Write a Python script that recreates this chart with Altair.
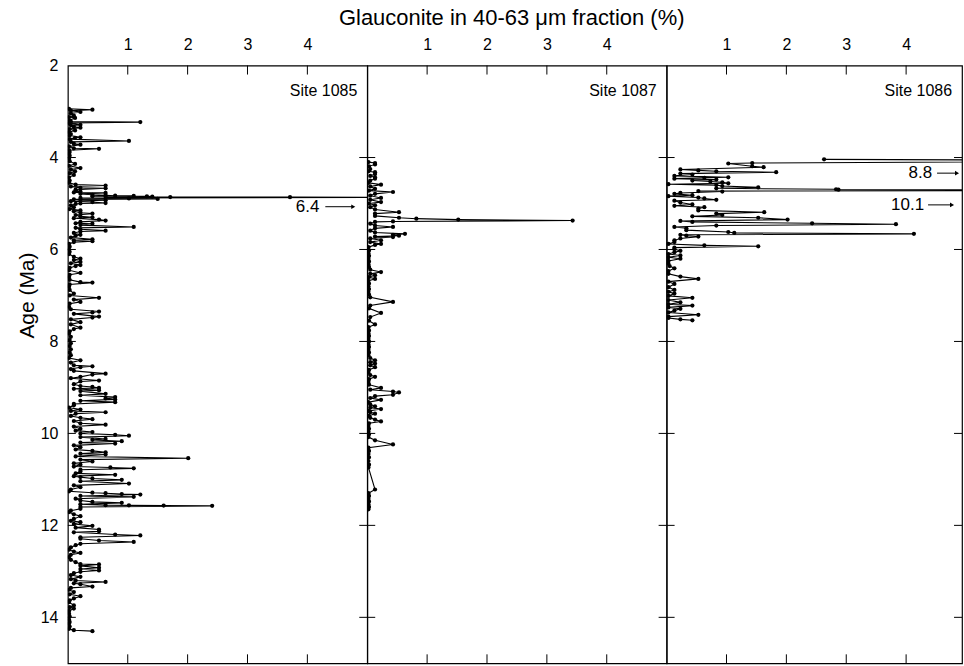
import altair as alt
import pandas as pd

FONT = "Liberation Sans"

site_names = ["Site 1085", "Site 1087", "Site 1086"]

# Site 1085: age (Ma) and glauconite (%)
age_1085 = [2.94, 2.96, 2.98, 3.01, 3.04, 3.09, 3.12, 3.14, 3.19, 3.22, 3.23, 3.25, 3.29, 3.30, 3.33, 3.35, 3.38, 3.41, 3.45, 3.49,
            3.52, 3.56, 3.57, 3.60, 3.64, 3.66, 3.70, 3.72, 3.76, 3.80, 3.81, 3.84, 3.88, 3.92, 3.96, 4.02, 4.08, 4.14, 4.18, 4.23,
            4.26, 4.30, 4.34, 4.38, 4.43, 4.50, 4.55, 4.59, 4.61, 4.63, 4.66, 4.67, 4.70, 4.72, 4.74, 4.76, 4.77, 4.79, 4.81, 4.82,
            4.83, 4.835, 4.84, 4.845, 4.85, 4.855, 4.86, 4.862, 4.866, 4.88, 4.89, 4.90, 4.91, 4.92, 4.93, 4.95, 4.97, 4.99, 5.00, 5.01,
            5.04, 5.08, 5.12, 5.15, 5.17, 5.20, 5.22, 5.25, 5.28, 5.30, 5.32, 5.35, 5.37, 5.40, 5.43, 5.44, 5.47, 5.51, 5.53, 5.56,
            5.59, 5.61, 5.64, 5.68, 5.70, 5.74, 5.78, 5.80, 5.82, 5.84, 5.88, 5.94, 6.00, 6.05, 6.10, 6.16, 6.20, 6.23, 6.27, 6.30,
            6.34, 6.36, 6.40, 6.45, 6.51, 6.55, 6.60, 6.66, 6.71, 6.72, 6.76, 6.81, 6.88, 6.96, 7.00, 7.05, 7.09, 7.14, 7.18, 7.25,
            7.30, 7.35, 7.37, 7.40, 7.46, 7.48, 7.52, 7.58, 7.63, 7.70, 7.73, 7.78, 7.83, 7.90, 7.97, 8.04, 8.10, 8.17, 8.24, 8.30,
            8.36, 8.41, 8.46, 8.52, 8.54, 8.56, 8.60, 8.64, 8.70, 8.72, 8.77, 8.80, 8.85, 8.87, 8.93, 8.97, 8.99, 9.01, 9.03, 9.06,
            9.08, 9.14, 9.17, 9.21, 9.24, 9.26, 9.29, 9.32, 9.36, 9.39, 9.44, 9.48, 9.51, 9.54, 9.57, 9.62, 9.66, 9.69, 9.73, 9.78,
            9.81, 9.85, 9.90, 9.94, 9.97, 10.00, 10.03, 10.05, 10.08, 10.12, 10.14, 10.17, 10.20, 10.22, 10.26, 10.30, 10.35, 10.38, 10.41, 10.44,
            10.46, 10.50, 10.54, 10.57, 10.61, 10.65, 10.68, 10.72, 10.74, 10.76, 10.79, 10.83, 10.87, 10.90, 10.93, 10.95, 10.98, 11.01, 11.04, 11.09,
            11.13, 11.17, 11.22, 11.26, 11.29, 11.30, 11.32, 11.33, 11.36, 11.38, 11.42, 11.46, 11.49, 11.51, 11.54, 11.56, 11.565, 11.57, 11.575, 11.60,
            11.64, 11.68, 11.71, 11.76, 11.80, 11.86, 11.90, 11.93, 11.97, 12.01, 12.05, 12.09, 12.13, 12.15, 12.20, 12.22, 12.26, 12.29, 12.33, 12.36,
            12.40, 12.43, 12.48, 12.53, 12.57, 12.60, 12.64, 12.69, 12.75, 12.80, 12.84, 12.85, 12.88, 12.92, 12.95, 12.98, 13.01, 13.04, 13.08, 13.12,
            13.17, 13.20, 13.23, 13.26, 13.28, 13.33, 13.36, 13.40, 13.45, 13.50, 13.54, 13.59, 13.63, 13.67, 13.74, 13.78, 13.81, 13.86, 13.92, 13.98,
            14.05, 14.10, 14.14, 14.20, 14.25, 14.28, 14.30]
glc_1085 = [0.02, 0.41, 0.05, 0.21, 0.05, 0.10, 0.02, 0.12, 0.03, 0.05, 1.21, 0.02, 0.21, 0.05, 0.10, 0.21, 0.03, 0.12, 0.02, 0.05,
            0.03, 0.21, 0.12, 0.03, 1.02, 0.05, 0.10, 0.21, 0.02, 0.10, 0.52, 0.02, 0.03, 0.02, 0.03, 0.02, 0.03, 0.12, 0.02, 0.21,
            0.05, 0.12, 0.03, 0.10, 0.02, 0.03, 0.02, 0.13, 0.63, 0.05, 0.21, 0.63, 0.13, 0.13, 0.21, 0.10, 0.63, 0.21, 0.41, 0.63,
            0.79, 1.10, 0.41, 1.32, 1.41, 0.63, 1.71, 3.71, 6.40, 0.21, 1.02, 1.50, 0.10, 0.21, 0.63, 0.05, 0.41, 0.63, 0.21, 0.13,
            0.05, 0.10, 0.03, 0.21, 0.10, 0.21, 0.41, 0.13, 0.21, 0.41, 0.10, 0.52, 0.63, 0.21, 0.13, 0.41, 0.21, 1.10, 0.13, 0.21,
            0.63, 0.21, 0.10, 0.21, 0.13, 0.05, 0.41, 0.10, 0.41, 0.10, 0.02, 0.03, 0.02, 0.03, 0.02, 0.10, 0.21, 0.10, 0.21, 0.05,
            0.21, 0.13, 0.03, 0.02, 0.21, 0.03, 0.02, 0.03, 0.21, 0.41, 0.03, 0.02, 0.03, 0.10, 0.03, 0.52, 0.10, 0.21, 0.03, 0.02,
            0.05, 0.52, 0.41, 0.10, 0.52, 0.41, 0.05, 0.21, 0.05, 0.21, 0.10, 0.03, 0.02, 0.05, 0.03, 0.05, 0.03, 0.05, 0.03, 0.05,
            0.02, 0.21, 0.05, 0.10, 0.41, 0.21, 0.05, 0.10, 0.63, 0.41, 0.21, 0.05, 0.52, 0.21, 0.10, 0.21, 0.41, 0.52, 0.10, 0.52,
            0.21, 0.63, 0.21, 0.79, 0.63, 0.79, 0.21, 0.79, 0.10, 0.10, 0.02, 0.21, 0.05, 0.63, 0.13, 0.05, 0.21, 0.41, 0.10, 0.21,
            0.63, 0.10, 0.21, 0.13, 0.41, 0.21, 0.79, 1.02, 0.21, 0.63, 0.41, 0.90, 0.21, 0.79, 0.10, 0.21, 0.13, 0.41, 0.63, 0.21,
            0.63, 0.13, 2.01, 0.21, 0.41, 0.10, 0.21, 0.10, 0.71, 1.10, 0.21, 0.21, 0.13, 0.79, 0.10, 0.21, 0.41, 0.90, 0.21, 1.02,
            0.10, 0.21, 0.05, 0.02, 0.41, 0.63, 0.90, 1.21, 0.21, 1.10, 0.13, 0.21, 0.41, 0.90, 0.21, 0.63, 1.02, 1.60, 2.41, 0.21,
            0.21, 0.05, 0.02, 0.10, 0.21, 0.10, 0.05, 0.21, 0.10, 0.41, 0.13, 0.52, 0.52, 0.10, 0.79, 1.21, 0.21, 0.21, 0.52, 1.10,
            0.21, 0.13, 0.05, 0.02, 0.10, 0.21, 0.05, 0.02, 0.05, 0.13, 0.21, 0.52, 0.21, 0.52, 0.21, 0.52, 0.21, 0.10, 0.05, 0.21,
            0.05, 0.13, 0.63, 0.10, 0.21, 0.41, 0.05, 0.02, 0.10, 0.03, 0.21, 0.10, 0.03, 0.02, 0.10, 0.03, 0.10, 0.02, 0.02, 0.03,
            0.02, 0.03, 0.02, 0.03, 0.02, 0.10, 0.41]

# Site 1087
age_1087 = [4.10, 4.12, 4.15, 4.19, 4.25, 4.30, 4.32, 4.36, 4.40, 4.43, 4.46, 4.50, 4.55, 4.59, 4.63, 4.68, 4.72, 4.75, 4.79, 4.83,
            4.88, 4.92, 4.97, 5.00, 5.04, 5.08, 5.13, 5.19, 5.22, 5.27, 5.31, 5.33, 5.35, 5.37, 5.39, 5.40, 5.44, 5.48, 5.51, 5.54,
            5.59, 5.63, 5.66, 5.68, 5.70, 5.72, 5.73, 5.76, 5.80, 5.84, 5.88, 5.90, 5.95, 6.02, 6.08, 6.14, 6.20, 6.26, 6.32, 6.38,
            6.44, 6.49, 6.53, 6.56, 6.60, 6.64, 6.68, 6.74, 6.80, 6.86, 6.92, 6.98, 7.04, 7.14, 7.22, 7.28, 7.38, 7.47, 7.55, 7.63,
            7.69, 7.76, 7.82, 7.88, 7.94, 8.00, 8.06, 8.12, 8.18, 8.24, 8.30, 8.36, 8.41, 8.45, 8.48, 8.52, 8.56, 8.62, 8.68, 8.73,
            8.77, 8.82, 8.88, 8.94, 9.01, 9.05, 9.09, 9.11, 9.16, 9.19, 9.23, 9.27, 9.32, 9.37, 9.41, 9.44, 9.47, 9.51, 9.54, 9.57,
            9.62, 9.66, 9.70, 9.74, 9.78, 9.84, 9.90, 9.96, 10.02, 10.08, 10.15, 10.24, 10.31, 10.38, 10.45, 10.52, 10.60, 10.68, 10.74, 11.22,
            11.30, 11.36, 11.42, 11.48, 11.54, 11.60, 11.65]
glc_1087 = [0.02, 0.13, 0.13, 0.03, 0.05, 0.02, 0.13, 0.13, 0.05, 0.13, 0.13, 0.05, 0.02, 0.23, 0.05, 0.13, 0.03, 0.43, 0.13, 0.05,
            0.23, 0.05, 0.23, 0.03, 0.13, 0.05, 0.13, 0.53, 0.13, 0.13, 0.53, 0.82, 1.52, 3.43, 0.43, 0.13, 0.05, 0.13, 0.43, 0.13,
            0.05, 0.13, 0.63, 0.43, 0.53, 0.13, 0.43, 0.05, 0.23, 0.05, 0.23, 0.13, 0.02, 0.03, 0.02, 0.03, 0.02, 0.03, 0.02, 0.03,
            0.05, 0.23, 0.05, 0.13, 0.03, 0.13, 0.02, 0.03, 0.02, 0.03, 0.02, 0.03, 0.05, 0.43, 0.05, 0.03, 0.23, 0.05, 0.03, 0.13,
            0.02, 0.03, 0.02, 0.03, 0.02, 0.03, 0.02, 0.03, 0.02, 0.03, 0.02, 0.05, 0.13, 0.05, 0.13, 0.05, 0.13, 0.03, 0.02, 0.05,
            0.13, 0.03, 0.02, 0.03, 0.23, 0.05, 0.43, 0.53, 0.43, 0.13, 0.05, 0.23, 0.02, 0.05, 0.13, 0.05, 0.23, 0.03, 0.05, 0.13,
            0.03, 0.05, 0.13, 0.23, 0.03, 0.02, 0.03, 0.02, 0.03, 0.02, 0.13, 0.43, 0.02, 0.03, 0.02, 0.03, 0.02, 0.03, 0.02, 0.13,
            0.02, 0.03, 0.02, 0.03, 0.02, 0.03, 0.02]

# Site 1086
age_1086 = [4.04, 4.07, 4.12, 4.13, 4.19, 4.21, 4.26, 4.28, 4.30, 4.32, 4.35, 4.37, 4.40, 4.43, 4.44, 4.46, 4.48, 4.50, 4.52, 4.54,
            4.56, 4.58, 4.60, 4.62, 4.65, 4.67, 4.69, 4.70, 4.71, 4.73, 4.74, 4.77, 4.79, 4.82, 4.84, 4.87, 4.89, 4.92, 4.94, 4.98,
            5.02, 5.05, 5.08, 5.11, 5.15, 5.19, 5.22, 5.25, 5.28, 5.31, 5.35, 5.38, 5.40, 5.43, 5.45, 5.48, 5.51, 5.54, 5.58, 5.62,
            5.64, 5.66, 5.68, 5.70, 5.72, 5.76, 5.80, 5.84, 5.88, 5.91, 5.93, 5.96, 5.99, 6.03, 6.06, 6.10, 6.13, 6.17, 6.20, 6.25,
            6.31, 6.36, 6.41, 6.47, 6.53, 6.59, 6.64, 6.70, 6.75, 6.82, 6.88, 6.92, 6.96, 7.01, 7.05, 7.10, 7.15, 7.19, 7.22, 7.26,
            7.29, 7.33, 7.37, 7.42, 7.46, 7.49, 7.52, 7.54]
glc_1086 = [2.63, 8.80, 1.43, 1.03, 1.43, 1.62, 0.23, 0.53, 0.83, 1.83, 0.23, 0.43, 0.13, 1.03, 0.63, 0.13, 0.83, 0.43, 0.73, 0.93,
            1.03, 0.03, 0.83, 0.93, 1.53, 0.83, 2.83, 2.87, 10.10, 0.53, 0.93, 0.23, 0.13, 0.43, 0.03, 0.53, 0.63, 0.83, 0.13, 0.23,
            0.43, 0.13, 0.63, 0.53, 0.53, 1.63, 0.83, 0.93, 0.43, 1.53, 2.02, 0.23, 0.43, 2.43, 3.83, 0.83, 0.13, 0.33, 0.33, 1.03,
            1.13, 4.13, 0.23, 0.33, 0.53, 0.23, 0.13, 0.13, 0.03, 0.63, 1.53, 0.13, 0.13, 0.23, 0.13, 0.03, 0.23, 0.03, 0.23, 0.03,
            0.03, 0.05, 0.13, 0.03, 0.03, 0.23, 0.53, 0.03, 0.13, 0.03, 0.13, 0.03, 0.13, 0.03, 0.43, 0.03, 0.23, 0.03, 0.43, 0.03,
            0.23, 0.13, 0.03, 0.53, 0.03, 0.03, 0.23, 0.43]

x_tick_values = [1, 2, 3, 4]
y_tick_values = [4, 6, 8, 10, 12, 14]
y_label_values = [2, 4, 6, 8, 10, 12, 14]

# off-scale annotations: site, text, age
ann_site = ["Site 1085", "Site 1086", "Site 1086"]
ann_text = ["6.4", "8.8", "10.1"]
ann_age = [5.07, 4.34, 5.03]
# horizontal layout of each annotation (pixels from panel left): text right edge, arrow start, arrow tip
ann_layout = [(252, 258, 289), (266, 271, 294), (258, 262, 289)]

H = 599
AGE_DOMAIN = [2, 15]


def panel(name, ages, vals, width, show_y):
    xmax = width / 60.0
    df = pd.DataFrame({"age": ages, "glc": vals, "i": list(range(len(ages)))})
    xs = alt.Scale(domain=[0, xmax], nice=False, zero=False)
    ys = alt.Scale(domain=AGE_DOMAIN, reverse=True, nice=False, zero=False)
    xaxis = alt.Axis(orient="top", values=x_tick_values, ticks=False, tickSize=0, domain=False,
                     grid=False, labelPadding=13, title=None, format="d")
    if show_y:
        yaxis = alt.Axis(orient="left", values=y_label_values, ticks=False, tickSize=0, domain=False,
                         grid=False, labelPadding=10, format="d", title="Age (Ma)",
                         titleFontSize=21, titleFontWeight="normal",
                         titleX=-40, titleY=230, titleAlign="center", titleBaseline="middle",
                         titleAngle=270)
    else:
        yaxis = None
    X = alt.X("glc:Q", scale=xs, axis=xaxis)
    Y = alt.Y("age:Q", scale=ys, axis=yaxis)

    line = alt.Chart(df).mark_line(color="black", strokeWidth=1.1, clip=True).encode(
        x=X, y=Y, order="i:Q")
    pts = alt.Chart(df).mark_circle(color="black", size=18, opacity=1, clip=True).encode(x=X, y=Y)

    ydf = pd.DataFrame({"age": y_tick_values})
    lt = alt.Chart(ydf).mark_rule(color="black", strokeWidth=1).encode(
        y=Y, x=alt.value(0), x2=alt.value(8))
    rt = alt.Chart(ydf).mark_rule(color="black", strokeWidth=1).encode(
        y=Y, x=alt.value(width - 8), x2=alt.value(width))
    xdf = pd.DataFrame({"glc": x_tick_values})
    tt = alt.Chart(xdf).mark_rule(color="black", strokeWidth=1).encode(
        x=X, y=alt.value(0), y2=alt.value(9))
    bt = alt.Chart(xdf).mark_rule(color="black", strokeWidth=1).encode(
        x=X, y=alt.value(H - 9), y2=alt.value(H))

    label = alt.Chart(pd.DataFrame({"site": [name]})).mark_text(
        align="right", baseline="alphabetic", fontSize=16, font=FONT, color="black").encode(
        text="site:N", x=alt.value(width - 10), y=alt.value(31))

    layers = [line, pts, lt, rt, tt, bt, label]
    for s, t, a, (tx, a0, a1) in zip(ann_site, ann_text, ann_age, ann_layout):
        if s != name:
            continue
        adf = pd.DataFrame({"age": [a], "txt": [t]})
        layers.append(alt.Chart(adf).mark_text(align="right", baseline="middle", fontSize=17,
                                               font=FONT, color="black").encode(
            text="txt:N", y=Y, x=alt.value(tx)))
        layers.append(alt.Chart(adf).mark_rule(color="black", strokeWidth=1).encode(
            y=Y, x=alt.value(a0), x2=alt.value(a1 - 4)))
        layers.append(alt.Chart(adf).mark_point(shape="triangle-right", filled=True, size=22,
                                                color="black", opacity=1).encode(
            y=Y, x=alt.value(a1 - 3)))

    return alt.layer(*layers).properties(width=width, height=H)


p1 = panel(site_names[0], age_1085, glc_1085, 300, True)
p2 = panel(site_names[1], age_1087, glc_1087, 300, False)
p3 = panel(site_names[2], age_1086, glc_1086, 296, False)

chart = alt.hconcat(p1, p2, p3, spacing=0, bounds="flush").properties(
    title=alt.TitleParams("Glauconite in 40-63 \u03bcm fraction (%)", fontSize=22, fontWeight="normal",
                          font=FONT, anchor="middle", offset=6, dx=22, color="black"),
    padding={"left": 16, "top": 6, "right": 0, "bottom": 0},
).configure_view(stroke="black", strokeWidth=1.2).configure_axis(
    labelFont=FONT, titleFont=FONT, labelFontSize=16, labelColor="black", titleColor="black"
).configure_concat(spacing=0)

chart.save("out.html", embed_options={"renderer": "svg", "actions": False})
